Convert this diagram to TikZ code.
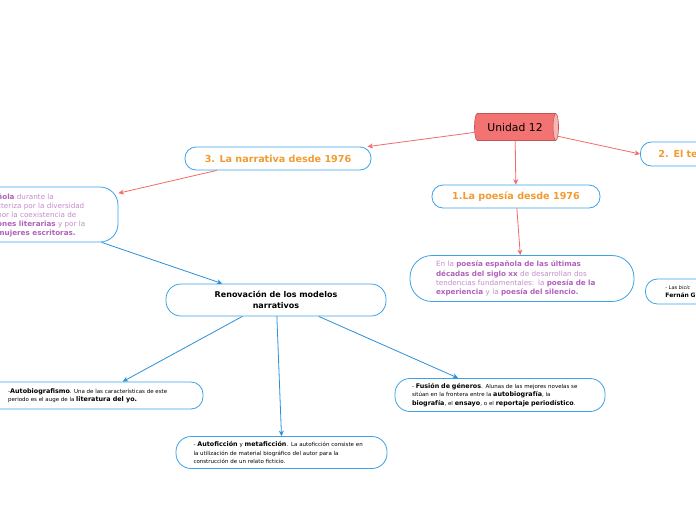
\documentclass[tikz,border=0pt]{standalone}
\usepackage{fontspec}
\setmainfont{DejaVu Sans}
\usetikzlibrary{shapes.geometric,arrows.meta}
\definecolor{bl}{HTML}{3DA2E6}
\definecolor{blc}{HTML}{2C8FD8}
\definecolor{rdc}{HTML}{F26B6B}
\definecolor{org}{HTML}{F29B30}
\definecolor{pl}{HTML}{C58BCC}
\definecolor{pb}{HTML}{B061BB}
\newcommand\pbf[1]{{\bfseries\color{pb}#1}}
\newcommand\sbf[1]{{\fontsize{6.4}{8}\selectfont\bfseries #1}}
\tikzset{
  topic/.style={draw=bl, line width=0.8pt, fill=white, rounded corners=11pt, text=org,
    font=\bfseries\fontsize{9.6}{12}\selectfont, inner sep=0pt},
  tbox/.style={draw=bl, line width=0.8pt, fill=white, inner sep=0pt},
  redc/.style={draw=rdc, line width=0.8pt, -{Stealth[length=5.5pt,width=5pt]}},
  bluc/.style={draw=blc, line width=0.8pt, -{Stealth[length=5.5pt,width=5pt]}},
  small/.style={font=\fontsize{5.5}{8.4}\selectfont, align=left, inner sep=0pt},
  purp/.style={font=\fontsize{7.2}{9.1}\selectfont, text=pl, align=left, inner sep=0pt}
}
\begin{document}
\begin{tikzpicture}[x=1pt,y=-1pt]
\useasboundingbox (0,0) rectangle (696,520);
\clip (0,0) rectangle (696,520);
\fill[white] (0,0) rectangle (696,520);
% central
\node[cylinder, shape aspect=0.65, minimum width=27pt, minimum height=84pt, inner sep=0pt,
  draw=rdc!80!black, line width=0.6pt, cylinder uses custom fill,
  cylinder body fill=rdc!95!white, cylinder end fill=rdc!50!white,
  font=\fontsize{10.8}{13}\selectfont] (unidad) at (515,127) {Unidad 12};
% topics
\node[topic, minimum width=186pt, minimum height=23pt] (nar3) at (278,158.5) {3. La narrativa desde 1976};
\node[topic, minimum width=168pt, minimum height=23pt] (poes1) at (516,196.5) {1.La poesía desde 1976};
\node[topic, anchor=west, minimum height=24pt, text width=110pt, align=left, inner xsep=18pt] (te2) at (640,154) {2. El te};
% left purple box
\node[tbox, rounded corners=18pt, minimum width=158pt, minimum height=55pt] (leftbox) at (39,214.5) {};
\node[purp, anchor=west] (lefttext) at (-3,215.5) {\pbf{ñola} durante la\\cteriza por la diversidad\\por la coexistencia de\\\pbf{ones literarias} y por la\\\pbf{mujeres escritoras.}};
% poetry text
\node[tbox, rounded corners=22pt, minimum width=224pt, minimum height=46pt, purp, text width=172pt] (poetxt) at (522,278.5)
  {En la \pbf{poesía española de las últimas}\\\pbf{décadas del siglo xx} de desarrollan dos\\tendencias fundamentales: la \pbf{poesía de la}\\\pbf{experiencia} y la \pbf{poesía del silencio.}};
% right partial box
\node[tbox, rounded corners=12pt, anchor=west, minimum height=25pt, text width=110pt, align=left, inner xsep=20pt, font=\fontsize{5}{8}\selectfont] (bici) at (645,291.5)
  {\itshape - Las bicic\\{\upshape\bfseries\fontsize{6}{8}\selectfont Fernán G}};
% renovacion
\node[tbox, rounded corners=15pt, minimum width=220pt, minimum height=32pt, align=center,
  font=\bfseries\fontsize{8}{11.5}\selectfont] (renov) at (276,300) {Renovación de los modelos\\narrativos};
% autobiografismo
\node[tbox, rounded corners=12pt, minimum width=233pt, minimum height=27pt] (autobio) at (86.5,395.5) {};
\node[small, anchor=west] (autobiotxt) at (8,396) {-\sbf{Autobiografismo}. Una de las características de este\\periodo es el auge de la \sbf{literatura del yo.}};
% fusion
\node[tbox, rounded corners=15pt, minimum width=210pt, minimum height=33pt, small, text width=176pt] (fusion) at (500,395)
  {- \sbf{Fusión de géneros}. Alunas de las mejores novelas se\\sitúan en la frontera entre la \sbf{autobiografía}, la\\\sbf{biografía}, el \sbf{ensayo}, o el \sbf{reportaje periodístico}.};
% autoficcion
\node[tbox, rounded corners=15pt, minimum width=211pt, minimum height=32pt, small, text width=176pt] (autofic) at (281.5,452.5)
  {- \sbf{Autoficción} y \sbf{metaficción}. La autoficción consiste en\\la utilización de material biográfico del autor para la\\construcción de un relato ficticio.};
% red connectors
\draw[redc] (unidad) -- (nar3);
\draw[redc] (unidad) -- (te2.west);
\draw[redc] (unidad) -- (poes1);
\draw[redc] (nar3.191) -- (leftbox.15);
\draw[redc] (poes1) -- (poetxt);
% blue connectors
\draw[bluc] (leftbox.-24) -- (renov.163);
\draw[bluc] (renov.206) -- (autobio.21);
\draw[bluc] (renov.-87) -- (autofic.north);
\draw[bluc] (renov.-21) -- (fusion.158);
\end{tikzpicture}
\end{document}
